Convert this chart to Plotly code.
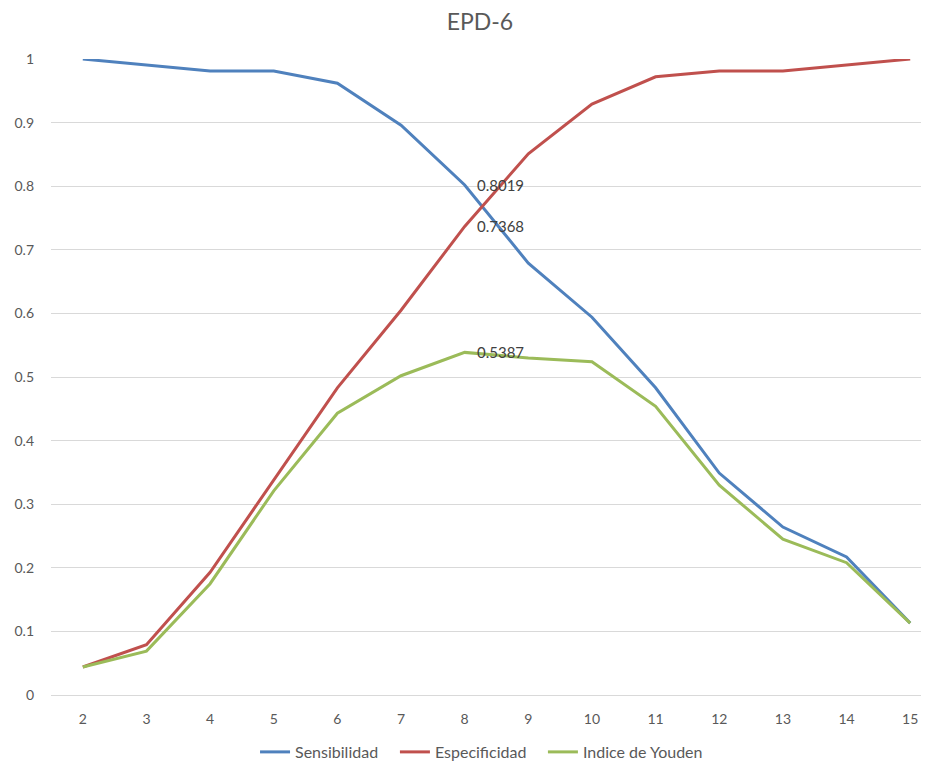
import plotly.graph_objects as go

umbral = [2, 3, 4, 5, 6, 7, 8, 9, 10, 11, 12, 13, 14, 15]
sensibilidad = [1.0, 0.990, 0.981, 0.981, 0.962, 0.896, 0.8019, 0.679, 0.594, 0.483, 0.349, 0.264, 0.217, 0.113]
especificidad = [0.044, 0.079, 0.193, 0.338, 0.483, 0.605, 0.7368, 0.851, 0.929, 0.972, 0.981, 0.981, 0.990, 1.0]
youden = [0.044, 0.069, 0.175, 0.321, 0.443, 0.502, 0.5387, 0.530, 0.524, 0.454, 0.330, 0.245, 0.208, 0.113]
label_x = 8

series = [
    ("Sensibilidad", sensibilidad, "#4F81BD"),
    ("Especificidad", especificidad, "#C0504D"),
    ("Indice de Youden", youden, "#9BBB59"),
]
legend_ids = ["legend", "legend2", "legend3"]
legend_x = [0.2290, 0.3860, 0.5521]

font_family = "Lato, 'Open Sans', sans-serif"

fig = go.Figure()
annotations = []
for (name, vals, color), lid in zip(series, legend_ids):
    fig.add_trace(go.Scatter(
        x=umbral, y=vals, name=name, mode="lines", legend=lid,
        line=dict(color=color, width=3),
    ))
    v = vals[umbral.index(label_x)]
    annotations.append(dict(
        x=label_x, y=v, xref="x", yref="y", text="%.4f" % v, showarrow=False,
        xanchor="left", yanchor="middle", xshift=10,
        font=dict(family=font_family, size=15, color="#404040"),
    ))

legend_layouts = {}
for lid, lx in zip(legend_ids, legend_x):
    legend_layouts[lid] = dict(
        orientation="h", x=lx, xanchor="left", y=-0.0896, yanchor="middle",
        font=dict(family=font_family, size=16, color="#595959"),
        itemwidth=30, bgcolor="rgba(0,0,0,0)",
    )

fig.update_layout(
    width=937, height=770,
    margin=dict(l=43, r=3, t=51, b=83),
    paper_bgcolor="white", plot_bgcolor="white",
    title=dict(text="EPD-6", x=0.5037, xanchor="center", y=0.9818, yanchor="middle",
               font=dict(family=font_family, size=23, color="#595959")),
    font=dict(family=font_family, size=14, color="#595959"),
    annotations=annotations,
    showlegend=True,
    xaxis=dict(range=[1.5, 15.5], tickmode="array", tickvals=umbral,
               ticktext=[str(v) for v in umbral], showgrid=False, zeroline=False,
               showline=False, ticks="", ticklabelstandoff=14, automargin=False,
               tickfont=dict(size=14)),
    yaxis=dict(range=[0, 1], dtick=0.1, tickformat="~g", showgrid=True,
               gridcolor="#D9D9D9", gridwidth=1, zeroline=True, zerolinecolor="#D9D9D9",
               zerolinewidth=1, showline=False, ticks="", ticklabelstandoff=16,
               automargin=False, tickfont=dict(size=14)),
    **legend_layouts,
)

fig.write_html("out.html")
